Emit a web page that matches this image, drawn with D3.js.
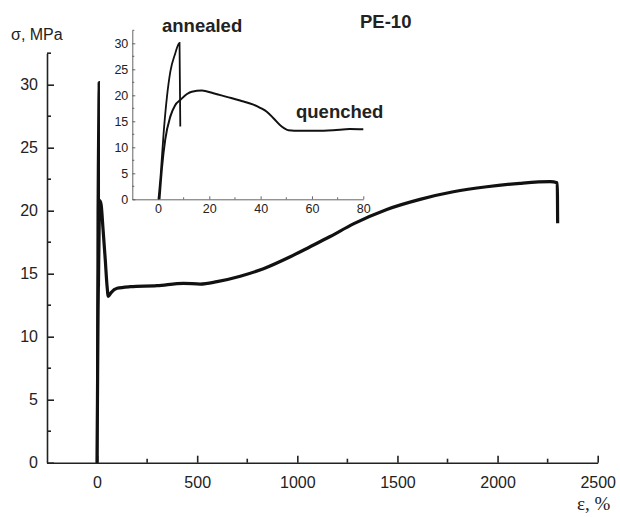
<!DOCTYPE html>
<html>
<head>
<meta charset="utf-8">
<script src="https://cdn.jsdelivr.net/npm/d3@7"></script>
<style>
  body { margin: 0; background: #fff; }
  svg { display: block; font-family: "Liberation Sans", Arial, sans-serif; }
</style>
</head>
<body>
<div id="chart"></div>
<script>
// main chart: strain (%) vs stress (MPa)
const quenchedMain = [
  [0, 0], [2, 5], [5, 12], [9, 17], [13, 20.8], [20, 20.5], [30, 18.5], [41, 16.1],
  [50, 14], [56, 13.2], [70, 13.5], [100, 13.84], [166, 13.97], [299, 14.05],
  [432, 14.24], [515, 14.18], [599, 14.37], [715, 14.8], [831, 15.4], [965, 16.35],
  [1064, 17.14], [1164, 17.95], [1280, 18.95], [1447, 20.1], [1613, 20.9], [1779, 21.5],
  [1946, 21.9], [2112, 22.17], [2262, 22.3], [2298, 22.22], [2300, 19.0]
];
const annealedMain = [[0, 0], [3, 19.7], [5, 24.5], [7, 28], [8.5, 30.2], [9, 14]];

// inset: first 80 %
const annealedInset = [
  [0.2, 0], [1.1, 5], [2.2, 12.7], [3.5, 19.7], [4.8, 24.5], [6.7, 28], [8.4, 30.1], [8.7, 14]
];
const quenchedInset = [
  [0.6, 0], [1.6, 6.3], [2.8, 11.4], [4.8, 15.9], [6.7, 18.1], [8.7, 19.1], [11.3, 20.25],
  [13.2, 20.7], [17.1, 20.9], [21.6, 20.4], [26.8, 19.7], [32, 19.0], [37.2, 18.2],
  [39.8, 17.6], [42.4, 16.85], [45, 15.6], [48.2, 14.0], [50.8, 13.3], [55.4, 13.2],
  [61.9, 13.2], [68.3, 13.3], [74.8, 13.5], [80, 13.45]
];

const mainXTicks = [0, 500, 1000, 1500, 2000, 2500];
const mainXMinor = [250, 750, 1250, 1750, 2250];
const mainYTicks = [0, 5, 10, 15, 20, 25, 30];
const mainYMinor = [2.5, 7.5, 12.5, 17.5, 22.5, 27.5, 32.5];
const insetXTicks = [0, 20, 40, 60, 80];
const insetXMinor = [10, 30, 50, 70];
const insetYTicks = [0, 5, 10, 15, 20, 25, 30];
const insetYMinor = [2.5, 7.5, 12.5, 17.5, 22.5, 27.5, 32.5];

const W = 620, H = 517;
const svg = d3.select("#chart").append("svg").attr("width", W).attr("height", H);

// scales
const x = d3.scaleLinear().domain([-250, 2500]).range([47, 597.7]);
const y = d3.scaleLinear().domain([0, 32.5]).range([462.7, 53.2]);
const xi = d3.scaleLinear().domain([-10, 80]).range([132.3, 363.3]);
const yi = d3.scaleLinear().domain([0, 32.5]).range([199.3, 30.3]);

function drawAxes(g, xs, ys, xt, xm, yt, ym, o) {
  const gx = g.append("g").attr("transform", `translate(0,${ys.range()[0]})`)
    .call(d3.axisBottom(xs).tickValues(xt).tickSizeInner(-o.major).tickSizeOuter(0)
      .tickPadding(o.xpad).tickFormat(d3.format("d")));
  gx.append("g").selectAll("line").data(xm).join("line")
    .attr("x1", d => xs(d)).attr("x2", d => xs(d)).attr("y1", 0).attr("y2", -o.minor);
  const gy = g.append("g").attr("transform", `translate(${xs.range()[0]},0)`)
    .call(d3.axisLeft(ys).tickValues(yt).tickSizeInner(-o.major).tickSizeOuter(0)
      .tickPadding(o.ypad).tickFormat(d3.format("d")));
  gy.append("g").selectAll("line").data(ym).join("line")
    .attr("y1", d => ys(d)).attr("y2", d => ys(d)).attr("x1", 0).attr("x2", o.minor);
  [gx, gy].forEach(a => {
    a.selectAll("path").attr("stroke", o.color).attr("stroke-width", o.sw);
    a.selectAll("line").attr("stroke", o.color).attr("stroke-width", o.sw);
    a.selectAll("text").attr("fill", "#222").style("font-size", o.fs + "px");
  });
}

drawAxes(svg.append("g"), x, y, mainXTicks, mainXMinor, mainYTicks, mainYMinor,
  { major: 7, minor: 4, xpad: 14, ypad: 9, sw: 1.6, color: "#222", fs: 16 });
drawAxes(svg.append("g"), xi, yi, insetXTicks, insetXMinor, insetYTicks, insetYMinor,
  { major: 3, minor: 2, xpad: 5, ypad: 4, sw: 0.9, color: "#555", fs: 12.5 });

const line = (xs, ys) => d3.line().x(d => xs(d[0])).y(d => ys(d[1])).curve(d3.curveMonotoneX);

svg.append("path").datum(annealedMain).attr("d", line(x, y))
  .attr("fill", "none").attr("stroke", "#111").attr("stroke-width", 2.4);
svg.append("path").datum(quenchedMain).attr("d", line(x, y))
  .attr("fill", "none").attr("stroke", "#111").attr("stroke-width", 3.2)
  .attr("stroke-linejoin", "round");

svg.append("path").datum(annealedInset).attr("d", line(xi, yi))
  .attr("fill", "none").attr("stroke", "#111").attr("stroke-width", 1.8);
svg.append("path").datum(quenchedInset).attr("d", line(xi, yi))
  .attr("fill", "none").attr("stroke", "#111").attr("stroke-width", 2)
  .attr("stroke-linejoin", "round");

// labels
svg.append("text").attr("x", 11).attr("y", 40).attr("fill", "#222")
  .style("font-size", "16px").text("σ, MPa");
svg.append("text").attr("x", 577).attr("y", 510).attr("fill", "#222")
  .style("font-family", "'Liberation Serif', serif").style("font-size", "19px").text("ε, %");
[["annealed", 162, 32], ["quenched", 296, 118], ["PE-10", 360, 28]].forEach(([t, tx, ty]) => {
  svg.append("text").attr("x", tx).attr("y", ty).attr("fill", "#222")
    .style("font-size", "18.5px").style("font-weight", "bold").text(t);
});
</script>
</body>
</html>
